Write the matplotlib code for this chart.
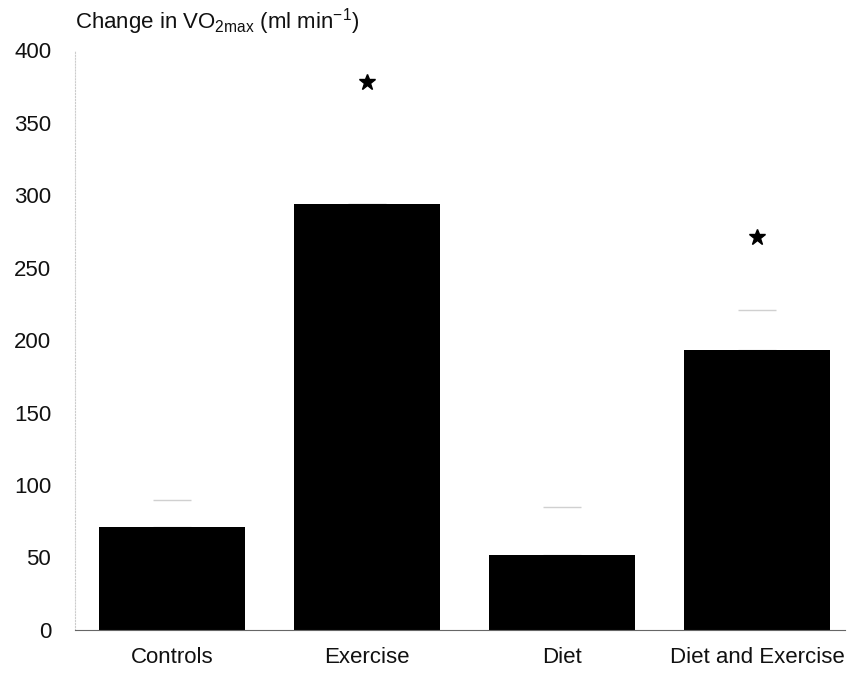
import matplotlib
matplotlib.use("Agg")
import matplotlib.pyplot as plt
import numpy as np

categories = ["Controls", "Exercise", "Diet", "Diet and Exercise"]
means = [71, 294, 52, 193]
upper_err = [19, 0, 33, 28]
star_groups = [1, 3]
star_values = [378, 271]
yticks = [0, 50, 100, 150, 200, 250, 300, 350, 400]

plt.rcParams['font.family'] = ['Liberation Sans', 'DejaVu Sans']

fig = plt.figure(figsize=(8.61, 6.79), dpi=100)
ax = fig.add_axes([0.087, 0.0722, 0.894, 0.854])

x = np.arange(len(categories))
ax.errorbar(x, means, yerr=[np.zeros(len(means)), upper_err], fmt='none',
            ecolor='#d0d0d0', elinewidth=0, capsize=14, capthick=1.0, zorder=1)
ax.bar(x, means, width=0.75, color='black', zorder=2)
ax.plot([x[i] for i in star_groups], star_values, linestyle='none', marker='*',
        color='black', markersize=12, zorder=3)

ax.set_xlim(-0.5, 3.45)
ax.set_ylim(0, 400)
ax.set_yticks(yticks)
ax.set_yticklabels([str(v) for v in yticks], fontsize=16, color='#111111')
ax.set_xticks(x)
ax.set_xticklabels(categories, fontsize=16, color='#111111')
ax.tick_params(axis='y', length=0, pad=17)
ax.tick_params(axis='x', length=0, pad=12)

for s in ['top', 'right']:
    ax.spines[s].set_visible(False)
ax.spines['left'].set_color('#cccccc')
ax.spines['left'].set_linestyle(':')
ax.spines['left'].set_linewidth(0.8)
ax.spines['bottom'].set_color('#666666')
ax.spines['bottom'].set_linewidth(0.8)

fig.text(0.087, 0.968, r"Change in VO$_{\mathregular{2max}}$ (ml min$^{\mathregular{-1}}$)",
         fontsize=16, color='#111111', ha='left', va='center')

fig.savefig("out.png", dpi=100)
